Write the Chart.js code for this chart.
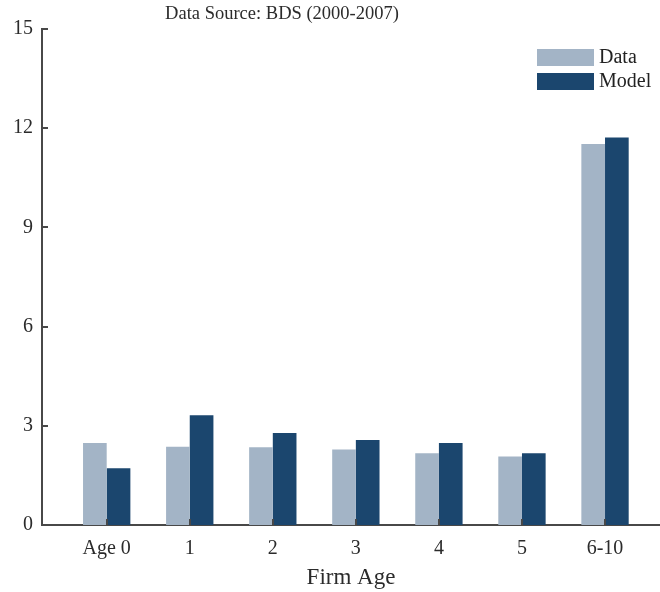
<!DOCTYPE html>
<html lang="en">
<head>
  <meta charset="UTF-8">
  <title>Data Source: BDS (2000-2007)</title>
  <script src="https://cdn.jsdelivr.net/npm/chart.js"></script>
  <style>
    body { margin: 0; background: #fff; }
    #wrap { width: 660px; height: 592px; }
  </style>
</head>
<body>
  <div id="wrap"><canvas id="ageChart" width="660" height="592"></canvas></div>

  <script>
    // values
    const ages = ['Age 0', '1', '2', '3', '4', '5', '6-10'];
    const dataShare = [2.48, 2.37, 2.35, 2.28, 2.17, 2.07, 11.52];
    const modelShare = [1.72, 3.32, 2.78, 2.57, 2.48, 2.17, 11.72];
    const yTicks = [0, 3, 6, 9, 12, 15];
    const chartTitle = 'Data Source: BDS (2000-2007)';
    const xTitle = 'Firm Age';

    const serif = "'Liberation Serif', 'DejaVu Serif', serif";
    const textColor = '#2b2b2b';
    const axisColor = '#484848';

    // inward tick marks, title and legend drawn on the canvas
    const extras = {
      id: 'extras',
      afterDatasetsDraw(chart) {
        const ctx = chart.ctx;
        const x = chart.scales.x, y = chart.scales.y;
        const area = chart.chartArea;
        ctx.save();
        ctx.strokeStyle = axisColor;
        ctx.lineWidth = 2;
        ages.forEach((_, i) => {
          const px = Math.round(x.getPixelForValue(i));
          ctx.beginPath();
          ctx.moveTo(px, area.bottom);
          ctx.lineTo(px, area.bottom - 6);
          ctx.stroke();
        });
        yTicks.forEach(v => {
          const py = Math.round(y.getPixelForValue(v));
          ctx.beginPath();
          ctx.moveTo(area.left, py);
          ctx.lineTo(area.left + 6, py);
          ctx.stroke();
        });

        // title
        ctx.fillStyle = textColor;
        ctx.font = '18.5px ' + serif;
        ctx.textAlign = 'center';
        ctx.textBaseline = 'middle';
        ctx.fillText(chartTitle, 282, 14);

        // legend
        ctx.textAlign = 'left';
        ctx.font = '20px ' + serif;
        chart.data.datasets.forEach((ds, i) => {
          const top = 49 + i * 24;
          ctx.fillStyle = ds.backgroundColor;
          ctx.fillRect(537, top, 57, 17);
          ctx.fillStyle = '#222';
          ctx.fillText(ds.label, 599, top + 9);
        });
        ctx.restore();
      }
    };

    new Chart(document.getElementById('ageChart'), {
      type: 'bar',
      data: {
        datasets: [
          {
            label: 'Data',
            data: dataShare.map((v, i) => ({ x: i, y: v })),
            backgroundColor: '#a3b4c6',
            borderWidth: 0,
            categoryPercentage: 0.57,
            barPercentage: 1
          },
          {
            label: 'Model',
            data: modelShare.map((v, i) => ({ x: i, y: v })),
            backgroundColor: '#1b466e',
            borderWidth: 0,
            categoryPercentage: 0.57,
            barPercentage: 1
          }
        ]
      },
      plugins: [extras],
      options: {
        responsive: false,
        animation: false,
        layout: { padding: { top: 29, left: 0, right: 0, bottom: 0 } },
        plugins: {
          legend: { display: false },
          title: { display: false },
          tooltip: { enabled: false }
        },
        scales: {
          x: {
            type: 'linear',
            offset: false,
            min: -0.779,
            max: 6.662,
            afterBuildTicks: s => { s.ticks = ages.map((_, i) => ({ value: i })); },
            afterFit: s => { s.height = 67; },
            grid: { display: false, drawTicks: false, offset: false },
            border: { display: true, color: axisColor, width: 2 },
            ticks: {
              padding: 12,
              color: textColor,
              font: { family: serif, size: 20 },
              callback: v => ages[v]
            },
            title: {
              display: true,
              text: xTitle,
              color: textColor,
              font: { family: serif, size: 23 },
              padding: { top: 0, bottom: 0 }
            }
          },
          y: {
            min: 0,
            max: 15,
            afterBuildTicks: s => { s.ticks = yTicks.map(v => ({ value: v })); },
            afterFit: s => { s.width = 42; },
            grid: { display: false, drawTicks: false },
            border: { display: true, color: axisColor, width: 2 },
            ticks: {
              padding: 9,
              color: textColor,
              font: { family: serif, size: 20 }
            }
          }
        }
      }
    });
  </script>
</body>
</html>
